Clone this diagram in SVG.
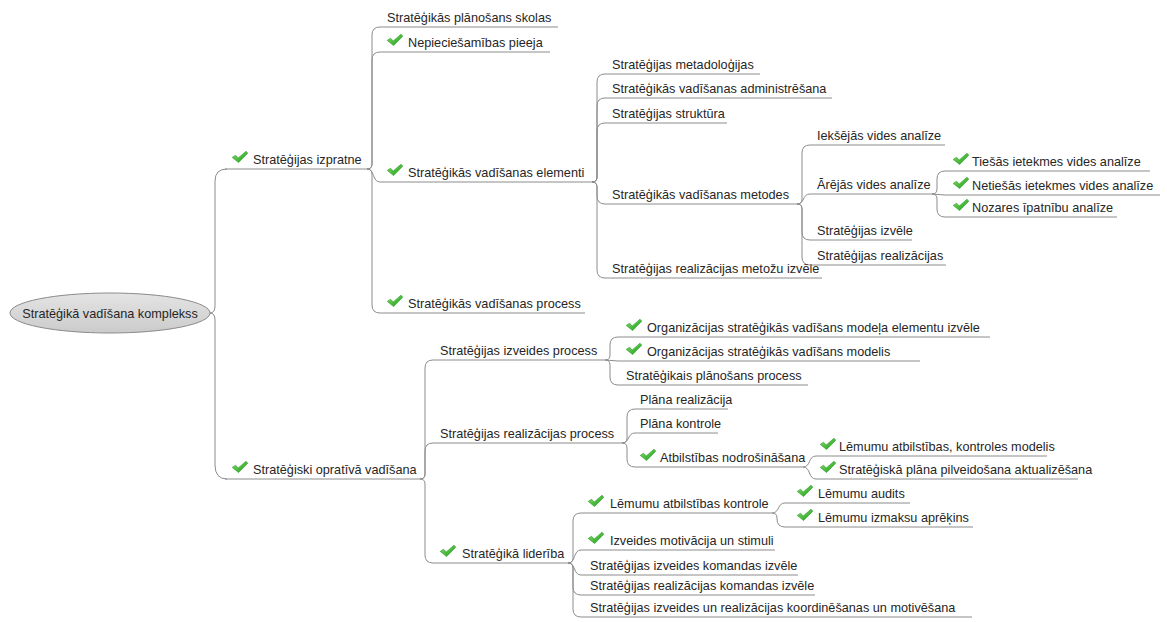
<svg xmlns="http://www.w3.org/2000/svg" xmlns:xlink="http://www.w3.org/1999/xlink" width="1167" height="622" viewBox="0 0 1167 622">
  <style>
    .lbl { font-family: "Liberation Sans", Arial, sans-serif; font-size: 12.7px; fill: #262626; }
    .ul { stroke: #8c8c8c; stroke-width: 1; fill: none; }
    .con path { stroke: #8c8c8c; stroke-width: 1; fill: none; }
    .root-shape { fill: url(#rootFill); stroke: #8a8a8a; stroke-width: 1; }
  </style>
  <defs>
    <linearGradient id="rootFill" x1="0" y1="0" x2="0" y2="1">
      <stop offset="0" stop-color="#e4e4e4"/>
      <stop offset="1" stop-color="#cbcbcb"/>
    </linearGradient>
    <linearGradient id="tickFill" x1="0" y1="0" x2="1" y2="1">
      <stop offset="0" stop-color="#86e266"/>
      <stop offset="1" stop-color="#189818"/>
    </linearGradient>
    <!-- green "done" tick -->
    <symbol id="tick" viewBox="0 0 16 12">
      <path d="M0.2,6.4 L3.6,4.2 L6.2,7 L14,0.2 L15.8,2.2 L6.6,11.6 Z" fill="url(#tickFill)" stroke="#2c9c2c" stroke-width="0.6" stroke-linejoin="round"/>
    </symbol>
  </defs>

  <rect width="1167" height="622" fill="#ffffff"/>

  <!-- connectors: parent underline end -> child underline start -->
  <g id="connectors" class="con">
    <!-- root -->
    <path d="M210,313 Q215,313 215,306 L215,181 Q215,169 227,169"/>
    <path d="M210,313 Q215,313 215,320 L215,465 Q215,479 227,479"/>
    <!-- Stratēģijas izpratne -->
    <path d="M367,169 Q372,169 372,164 L372,35 Q372,27 380,27"/>
    <path d="M367,169 Q372,169 372,164 L372,60 Q372,52 380,52"/>
    <path d="M367,169 C375,169 372,182 380,182"/>
    <path d="M367,169 Q372,169 372,174 L372,305 Q372,313 380,313"/>
    <!-- Stratēģikās vadīšanas elementi -->
    <path d="M592,182 Q597,182 597,177 L597,82 Q597,74 605,74"/>
    <path d="M592,182 Q597,182 597,177 L597,106 Q597,98 605,98"/>
    <path d="M592,182 Q597,182 597,177 L597,131 Q597,123 605,123"/>
    <path d="M592,182 Q597,182 597,187 L597,196 Q597,204 605,204"/>
    <path d="M592,182 Q597,182 597,187 L597,270 Q597,278 605,278"/>
    <!-- Stratēģikās vadīšanas metodes -->
    <path d="M797,204 Q802,204 802,199 L802,153 Q802,145 810,145"/>
    <path d="M797,204 C805,204 802,194 810,194"/>
    <path d="M797,204 Q802,204 802,209 L802,232 Q802,240 810,240"/>
    <path d="M797,204 Q802,204 802,209 L802,257 Q802,265 810,265"/>
    <!-- Ārējās vides analīze -->
    <path d="M932,194 Q937,194 937,189 L937,179 Q937,171 945,171"/>
    <path d="M932,194 L945,195"/>
    <path d="M932,194 Q937,194 937,199 L937,209 Q937,217 945,217"/>
    <!-- Stratēģiski opratīvā vadīšana -->
    <path d="M420,479 Q425,479 425,474 L425,368 Q425,360 433,360"/>
    <path d="M420,479 Q425,479 425,474 L425,451 Q425,443 433,443"/>
    <path d="M420,479 Q425,479 425,484 L425,555 Q425,563 433,563"/>
    <!-- Stratēģijas izveides process -->
    <path d="M605,360 Q610,360 610,355 L610,345 Q610,337 618,337"/>
    <path d="M605,360 L618,361"/>
    <path d="M605,360 Q610,360 610,365 L610,377 Q610,385 618,385"/>
    <!-- Stratēģijas realizācijas process -->
    <path d="M622,443 Q627,443 627,438 L627,417 Q627,409 635,409"/>
    <path d="M622,443 C630,443 627,433 635,433"/>
    <path d="M622,443 Q627,443 627,448 L627,459 Q627,467 635,467"/>
    <!-- Atbilstības nodrošināšana -->
    <path d="M803,467 C811,467 808,456 816,456"/>
    <path d="M803,467 C811,467 808,479 816,479"/>
    <!-- Stratēģikā liderība -->
    <path d="M568,563 Q573,563 573,558 L573,521 Q573,513 581,513"/>
    <path d="M568,563 C576,563 573,550 581,550"/>
    <path d="M568,563 C576,563 573,575 581,575"/>
    <path d="M568,563 Q573,563 573,568 L573,587 Q573,595 581,595"/>
    <path d="M568,563 Q573,563 573,568 L573,609 Q573,617 581,617"/>
    <!-- Lēmumu atbilstības kontrole -->
    <path d="M772,513 C780,513 777,503 785,503"/>
    <path d="M772,513 Q777,513 777,518 L777,519 Q777,527 785,527"/>
  </g>

  <!-- central topic -->
  <g id="root">
    <ellipse class="root-shape" cx="110" cy="313" rx="100" ry="20"/>
    <text class="lbl" x="110" y="318" text-anchor="middle">Stratēģikā vadīšana komplekss</text>
  </g>

  <!-- level 1 -->
  <g id="n-izpratne">
    <line class="ul" x1="225" y1="169" x2="367" y2="169"/>
    <use href="#tick" x="232" y="151" width="16" height="12"/>
    <text class="lbl" x="253" y="164">Stratēģijas izpratne</text>
  </g>
  <g id="n-operativa">
    <line class="ul" x1="225" y1="479" x2="420" y2="479"/>
    <use href="#tick" x="232" y="461" width="16" height="12"/>
    <text class="lbl" x="253" y="474">Stratēģiski opratīvā vadīšana</text>
  </g>

  <!-- Stratēģijas izpratne branch -->
  <g id="n-skolas">
    <line class="ul" x1="380" y1="27" x2="558" y2="27"/>
    <text class="lbl" x="387" y="22">Stratēģikās plānošans skolas</text>
  </g>
  <g id="n-pieeja">
    <line class="ul" x1="380" y1="52" x2="550" y2="52"/>
    <use href="#tick" x="387" y="34" width="16" height="12"/>
    <text class="lbl" x="408" y="47">Nepieciešamības pieeja</text>
  </g>
  <g id="n-elementi">
    <line class="ul" x1="380" y1="182" x2="592" y2="182"/>
    <use href="#tick" x="387" y="164" width="16" height="12"/>
    <text class="lbl" x="408" y="177">Stratēģikās vadīšanas elementi</text>
  </g>
  <g id="n-process">
    <line class="ul" x1="380" y1="313" x2="585" y2="313"/>
    <use href="#tick" x="387" y="295" width="16" height="12"/>
    <text class="lbl" x="408" y="308">Stratēģikās vadīšanas process</text>
  </g>

  <!-- Stratēģikās vadīšanas elementi branch -->
  <g id="n-metadologijas">
    <line class="ul" x1="605" y1="74" x2="760" y2="74"/>
    <text class="lbl" x="612" y="69">Stratēģijas metadoloģijas</text>
  </g>
  <g id="n-administresana">
    <line class="ul" x1="605" y1="98" x2="832" y2="98"/>
    <text class="lbl" x="612" y="93">Stratēģikās vadīšanas administrēšana</text>
  </g>
  <g id="n-struktura">
    <line class="ul" x1="605" y1="123" x2="727" y2="123"/>
    <text class="lbl" x="612" y="118">Stratēģijas struktūra</text>
  </g>
  <g id="n-metodes">
    <line class="ul" x1="605" y1="204" x2="797" y2="204"/>
    <text class="lbl" x="612" y="199">Stratēģikās vadīšanas metodes</text>
  </g>
  <g id="n-metozu-izvele">
    <line class="ul" x1="605" y1="278" x2="822" y2="278"/>
    <text class="lbl" x="612" y="273">Stratēģijas realizācijas metožu izvēle</text>
  </g>

  <!-- Stratēģikās vadīšanas metodes branch -->
  <g id="n-ieksejas">
    <line class="ul" x1="810" y1="145" x2="945" y2="145"/>
    <text class="lbl" x="817" y="140">Iekšējās vides analīze</text>
  </g>
  <g id="n-arejas">
    <line class="ul" x1="810" y1="194" x2="932" y2="194"/>
    <text class="lbl" x="817" y="189">Ārējās vides analīze</text>
  </g>
  <g id="n-izvele">
    <line class="ul" x1="810" y1="240" x2="912" y2="240"/>
    <text class="lbl" x="817" y="235">Stratēģijas izvēle</text>
  </g>
  <g id="n-realizacijas">
    <line class="ul" x1="810" y1="265" x2="946" y2="265"/>
    <text class="lbl" x="817" y="260">Stratēģijas realizācijas</text>
  </g>

  <!-- Ārējās vides analīze branch -->
  <g id="n-tiesas">
    <line class="ul" x1="945" y1="171" x2="1150" y2="171"/>
    <use href="#tick" x="953" y="153" width="16" height="12"/>
    <text class="lbl" x="972" y="166">Tiešās ietekmes vides analīze</text>
  </g>
  <g id="n-netiesas">
    <line class="ul" x1="945" y1="195" x2="1160" y2="195"/>
    <use href="#tick" x="953" y="177" width="16" height="12"/>
    <text class="lbl" x="972" y="190">Netiešās ietekmes vides analīze</text>
  </g>
  <g id="n-nozares">
    <line class="ul" x1="945" y1="217" x2="1117" y2="217"/>
    <use href="#tick" x="953" y="199" width="16" height="12"/>
    <text class="lbl" x="972" y="212">Nozares īpatnību analīze</text>
  </g>

  <!-- Stratēģiski opratīvā vadīšana branch -->
  <g id="n-izveides-process">
    <line class="ul" x1="433" y1="360" x2="605" y2="360"/>
    <text class="lbl" x="440" y="355">Stratēģijas izveides process</text>
  </g>
  <g id="n-realizacijas-process">
    <line class="ul" x1="433" y1="443" x2="622" y2="443"/>
    <text class="lbl" x="440" y="438">Stratēģijas realizācijas process</text>
  </g>
  <g id="n-lideriba">
    <line class="ul" x1="433" y1="563" x2="568" y2="563"/>
    <use href="#tick" x="440" y="545" width="16" height="12"/>
    <text class="lbl" x="462" y="558">Stratēģikā liderība</text>
  </g>

  <!-- Stratēģijas izveides process branch -->
  <g id="n-modela-elementi">
    <line class="ul" x1="618" y1="337" x2="990" y2="337"/>
    <use href="#tick" x="626" y="319" width="16" height="12"/>
    <text class="lbl" x="647" y="332">Organizācijas stratēģikās vadīšans modeļa elementu izvēle</text>
  </g>
  <g id="n-modelis">
    <line class="ul" x1="618" y1="361" x2="920" y2="361"/>
    <use href="#tick" x="626" y="343" width="16" height="12"/>
    <text class="lbl" x="647" y="356">Organizācijas stratēģikās vadīšans modelis</text>
  </g>
  <g id="n-planosans-process">
    <line class="ul" x1="618" y1="385" x2="808" y2="385"/>
    <text class="lbl" x="626" y="380">Stratēģikais plānošans process</text>
  </g>

  <!-- Stratēģijas realizācijas process branch -->
  <g id="n-plana-realizacija">
    <line class="ul" x1="635" y1="409" x2="728" y2="409"/>
    <text class="lbl" x="640" y="404">Plāna realizācija</text>
  </g>
  <g id="n-plana-kontrole">
    <line class="ul" x1="635" y1="433" x2="718" y2="433"/>
    <text class="lbl" x="640" y="428">Plāna kontrole</text>
  </g>
  <g id="n-atbilstiba">
    <line class="ul" x1="635" y1="467" x2="803" y2="467"/>
    <use href="#tick" x="640" y="449" width="16" height="12"/>
    <text class="lbl" x="660" y="462">Atbilstības nodrošināšana</text>
  </g>

  <!-- Atbilstības nodrošināšana branch -->
  <g id="n-kontroles-modelis">
    <line class="ul" x1="816" y1="456" x2="1047" y2="456"/>
    <use href="#tick" x="820" y="438" width="16" height="12"/>
    <text class="lbl" x="839" y="451">Lēmumu atbilstības, kontroles modelis</text>
  </g>
  <g id="n-aktualizesana">
    <line class="ul" x1="816" y1="479" x2="1078" y2="479"/>
    <use href="#tick" x="820" y="461" width="16" height="12"/>
    <text class="lbl" x="839" y="474">Stratēģiskā plāna pilveidošana aktualizēšana</text>
  </g>

  <!-- Stratēģikā liderība branch -->
  <g id="n-atbilstibas-kontrole">
    <line class="ul" x1="581" y1="513" x2="772" y2="513"/>
    <use href="#tick" x="588" y="495" width="16" height="12"/>
    <text class="lbl" x="610" y="508">Lēmumu atbilstības kontrole</text>
  </g>
  <g id="n-motivacija">
    <line class="ul" x1="581" y1="550" x2="775" y2="550"/>
    <use href="#tick" x="588" y="532" width="16" height="12"/>
    <text class="lbl" x="610" y="545">Izveides motivācija un stimuli</text>
  </g>
  <g id="n-izveides-komanda">
    <line class="ul" x1="581" y1="575" x2="798" y2="575"/>
    <text class="lbl" x="590" y="570">Stratēģijas izveides komandas izvēle</text>
  </g>
  <g id="n-realizacijas-komanda">
    <line class="ul" x1="581" y1="595" x2="815" y2="595"/>
    <text class="lbl" x="590" y="590">Stratēģijas realizācijas komandas izvēle</text>
  </g>
  <g id="n-koordinesana">
    <line class="ul" x1="581" y1="617" x2="972" y2="617"/>
    <text class="lbl" x="590" y="612">Stratēģijas izveides un realizācijas koordinēšanas un motivēšana</text>
  </g>

  <!-- Lēmumu atbilstības kontrole branch -->
  <g id="n-auditi">
    <line class="ul" x1="785" y1="503" x2="910" y2="503"/>
    <use href="#tick" x="797" y="485" width="16" height="12"/>
    <text class="lbl" x="818" y="498">Lēmumu audits</text>
  </g>
  <g id="n-izmaksas">
    <line class="ul" x1="785" y1="527" x2="973" y2="527"/>
    <use href="#tick" x="797" y="509" width="16" height="12"/>
    <text class="lbl" x="818" y="522">Lēmumu izmaksu aprēķins</text>
  </g>
</svg>
